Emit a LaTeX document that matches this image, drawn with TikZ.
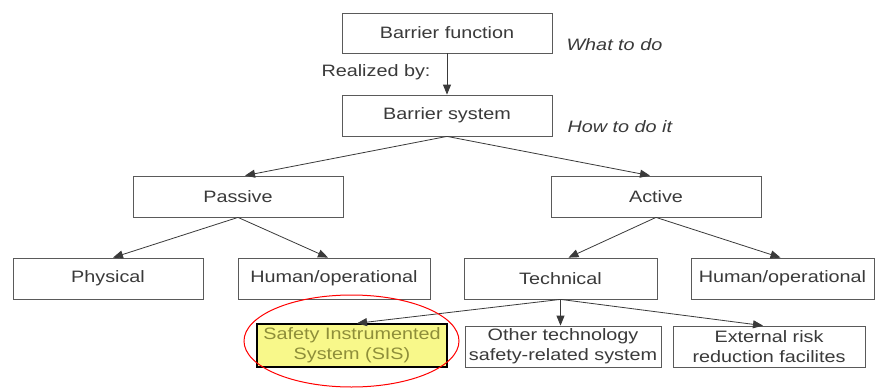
\documentclass[tikz,border=0pt]{standalone}
\usepackage{fontspec}
\setmainfont{Liberation Sans}[FakeStretch=1.2]
\usetikzlibrary{arrows.meta}
\definecolor{boxline}{HTML}{5A5A5A}
\definecolor{inkgray}{HTML}{3A3A3A}
\definecolor{sisfill}{HTML}{F8F88A}
\definecolor{sistext}{HTML}{8E8E3A}
\begin{document}
\begin{tikzpicture}[x=1pt,y=-1pt,
  every node/.style={font=\fontsize{16.5}{20}\selectfont, text=inkgray},
  box/.style={draw=boxline, line width=0.8pt, minimum height=41pt, inner sep=0pt, align=center},
  link/.style={draw=inkgray, line width=0.8pt, -{Triangle[length=10pt,width=8pt]}},
  note/.style={font=\fontsize{16.5}{20}\selectfont\itshape}]
\useasboundingbox (0,0) rectangle (875,391);
\fill[white] (0,0) rectangle (875,391);

% levels of the barrier hierarchy
\node[box, minimum width=210pt, minimum height=40pt] (bf) at (447,33) {Barrier function};
\node[box, minimum width=210pt] (bs) at (447,115.5) {Barrier system};
\node[box, minimum width=210pt] (passive) at (238,196.5) {Passive};
\node[box, minimum width=210pt] (active) at (656,196.5) {Active};
\node[box, minimum width=190pt] (phys) at (108,278.5) {Physical};
\node[box, minimum width=192pt] (hum1) at (334,278.5) {Human/operational};
\node[box, minimum width=193pt] (tech) at (560.5,278.5) {Technical};
\node[box, minimum width=183pt] (hum2) at (782.5,278.5) {Human/operational};
\node[box, draw=black, line width=1.4pt, fill=sisfill, text=sistext,
      minimum width=190pt, minimum height=43pt] (sis) at (352,345.5)
      {Safety Instrumented\\System (SIS)};
\node[box, minimum width=196pt] (other) at (563,346.5) {Other technology\\safety-related system};
\node[box, minimum width=192pt] (ext) at (769,346.5) {External risk\\reduction facilites};

% side notes
\node[note, anchor=west] (what) at (563,45) {What to do};
\node[note, anchor=west] (how) at (564,127) {How to do it};
\node[anchor=east] (realized) at (434,72) {Realized by:};

% connectors
\draw[link] (bf) -- (bs);
\draw[link] (bs.south) -- ([xshift=7pt]passive.north);
\draw[link] (bs.south) -- ([xshift=-6pt]active.north);
\draw[link] (passive.south) -- ([xshift=5pt]phys.north);
\draw[link] (passive.south) -- ([xshift=-6pt]hum1.north);
\draw[link] (active.south) -- ([xshift=8pt]tech.north);
\draw[link] (active.south) -- ([xshift=-2pt]hum2.north);
\draw[link] (tech.south) -- ([xshift=5pt]sis.north);
\draw[link] (tech.south) -- (tech.south |- other.north);
\draw[link] (tech.south) -- ([xshift=-6pt]ext.north);

% highlight around the SIS box
\draw[red, line width=1pt] (351.5,341) ellipse [x radius=107.5, y radius=46];
\end{tikzpicture}
\end{document}
